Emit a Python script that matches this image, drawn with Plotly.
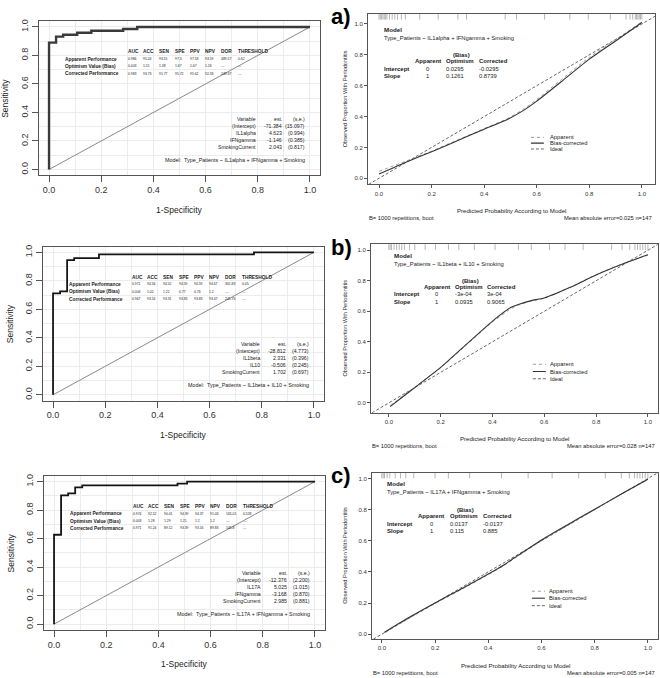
import plotly.graph_objects as go

W, H = 660, 678
FONT = "Liberation Sans, Arial, sans-serif"

# ---------------- data: ROC curves (step points: 1-specificity, sensitivity) ----------------
roc1_fpr = [0, 0, 0.027, 0.054, 0.108, 0.162, 0.284, 0.338, 1.0]
roc1_tpr = [0, 0.890, 0.932, 0.945, 0.959, 0.973, 0.986, 1.0, 1.0]
roc2_fpr = [0, 0, 0.027, 0.054, 0.081, 0.176, 0.770, 1.0]
roc2_tpr = [0, 0.712, 0.726, 0.945, 0.959, 0.986, 1.0, 1.0]
roc3_fpr = [0, 0, 0.027, 0.054, 0.081, 0.108, 0.473, 0.510, 1.0]
roc3_tpr = [0, 0.627, 0.904, 0.918, 0.959, 0.973, 0.986, 1.0, 1.0]

metric_cols = ["AUC", "ACC", "SEN", "SPE", "PPV", "NPV", "DOR", "THRESHOLD"]
metric_rows = ["Apparent Performance", "Optimism Value (Bias)", "Corrected Performance"]
roc1_metrics = [["0.986", "95.24", "93.15", "97.3", "97.18", "93.59", "489.57", "0.62"],
                ["0.003", "1.51", "1.38", "1.67", "1.67", "1.26", "---", "---"],
                ["0.983", "93.73", "91.77", "95.72", "95.62", "92.33", "249.37", "---"]]
roc2_metrics = [["0.971", "94.56", "94.52", "94.59", "94.59", "94.67", "301.83", "0.45"],
                ["0.004", "1.02", "1.22", "0.77", "0.76", "1.2", "---", "---"],
                ["0.967", "93.54", "93.31", "93.83", "93.83", "93.47", "241.76", "---"]]
roc3_metrics = [["0.974", "92.52", "90.41", "94.39", "94.37", "91.03", "165.01", "0.528"],
                ["0.003", "1.28", "1.29", "1.21", "1.2", "1.2", "---", "---"],
                ["0.971", "91.24", "89.12", "93.39", "93.16", "89.83", "145.8", "---"]]

coef_header = ["Variable", "est.", "(s.e.)"]
roc1_vars = ["(Intercept)", "IL1alpha", "IFNgamma", "SmokingCurrent"]
roc1_est = ["-71.384", "4.623", "-1.146", "2.043"]
roc1_se = ["(15.097)", "(0.994)", "(0.385)", "(0.817)"]
roc2_vars = ["(Intercept)", "IL1beta", "IL10", "SmokingCurrent"]
roc2_est = ["-28.812", "2.331", "-0.506", "1.702"]
roc2_se = ["(4.773)", "(0.396)", "(0.245)", "(0.697)"]
roc3_vars = ["(Intercept)", "IL17A", "IFNgamma", "SmokingCurrent"]
roc3_est = ["-12.376", "5.025", "-3.168", "2.985"]
roc3_se = ["(2.200)", "(1.015)", "(0.870)", "(0.881)"]
model1 = "Type_Patients ~ IL1alpha + IFNgamma + Smoking"
model2 = "Type_Patients ~ IL1beta + IL10 + Smoking"
model3 = "Type_Patients ~ IL17A + IFNgamma + Smoking"

# ---------------- data: calibration curves ----------------
cal_a_x = [0.0, 0.1, 0.2, 0.3, 0.4, 0.49, 0.55, 0.6, 0.7, 0.8, 0.9, 1.0]
cal_a_bias = [0.028, 0.103, 0.172, 0.245, 0.318, 0.383, 0.440, 0.500, 0.635, 0.772, 0.890, 1.010]
cal_a_app = [0.045, 0.110, 0.176, 0.249, 0.322, 0.388, 0.448, 0.510, 0.648, 0.784, 0.899, 1.014]
cal_b_x = [0.005, 0.05, 0.1, 0.2, 0.3, 0.4, 0.47, 0.5, 0.55, 0.6, 0.7, 0.8, 0.9, 1.0]
cal_b_bias = [-0.025, 0.035, 0.100, 0.232, 0.385, 0.536, 0.625, 0.645, 0.670, 0.687, 0.757, 0.838, 0.908, 0.970]
cal_b_app = [-0.018, 0.040, 0.103, 0.230, 0.380, 0.530, 0.615, 0.640, 0.668, 0.686, 0.757, 0.840, 0.910, 0.968]
cal_c_x = [0.01, 0.1, 0.2, 0.3, 0.4, 0.46, 0.5, 0.6, 0.7, 0.8, 0.9, 1.0]
cal_c_bias = [0.012, 0.105, 0.200, 0.292, 0.386, 0.446, 0.492, 0.605, 0.705, 0.803, 0.900, 0.995]
cal_c_app = [0.008, 0.100, 0.196, 0.288, 0.382, 0.442, 0.488, 0.600, 0.700, 0.800, 0.898, 0.993]

rug_a = [0.0, 0.005, 0.01, 0.015, 0.02, 0.025, 0.03, 0.04, 0.05, 0.06, 0.07, 0.085, 0.1, 0.155, 0.225,
         0.3, 0.333, 0.48, 0.523, 0.63, 0.726, 0.796, 0.88, 0.94, 0.955, 0.965, 0.975, 0.98, 0.985, 0.99, 0.995, 1.0]
rug_b = [0.0, 0.005, 0.01, 0.02, 0.03, 0.04, 0.05, 0.06, 0.08, 0.1, 0.14, 0.18, 0.23, 0.27, 0.33, 0.41,
         0.5, 0.55, 0.62, 0.68, 0.75, 0.86, 0.9, 0.93, 0.95, 0.96, 0.97, 0.98, 0.99, 1.0]
rug_c = [0.0, 0.005, 0.01, 0.02, 0.03, 0.05, 0.07, 0.09, 0.12, 0.2, 0.25, 0.33, 0.45, 0.55, 0.64, 0.74,
         0.84, 0.9, 0.93, 0.95, 0.96, 0.97, 0.98, 0.99, 1.0]

cal_rows = ["Intercept", "Slope"]
cal_cols = ["Apparent", "Optimism", "Corrected"]
cal_a_tab = [["0", "0.0295", "-0.0295"], ["1", "0.1261", "0.8739"]]
cal_b_tab = [["0", "-3e-04", "3e-04"], ["1", "0.0935", "0.9065"]]
cal_c_tab = [["0", "0.0137", "-0.0137"], ["1", "0.115", "0.885"]]
mae = ["0.025", "0.028", "0.005"]
letters = ["a)", "b)", "c)"]

ticks = [0, 0.2, 0.4, 0.6, 0.8, 1.0]
tick_text = ["0.0", "0.2", "0.4", "0.6", "0.8", "1.0"]

# ---------------- layout geometry (pixels) ----------------
def px(x):
    return x / W

def py(y):
    return 1 - y / H

# frame boxes: left, right, top, bottom (pixels); axis ranges
roc_frames = [(38.6, 320.4, 19.3, 173.7), (42.6, 324.4, 245.3, 399.7), (43.6, 325.4, 475.3, 629.7)]
roc_range = [-0.04, 1.04]
cal_frames = [(368, 655, 12, 183), (371, 658, 243, 412), (372, 658, 472, 639)]
cal_xr = [[-0.042, 1.05], [-0.069, 1.039], [-0.037, 1.038]]
cal_yr = [[-0.04, 1.065], [-0.065, 1.039], [-0.032, 1.038]]

fig = go.Figure()
annotations = []
shapes = []

def ann(text, x, y, xref, yref, size, xanchor="left", yanchor="middle", bold=False, color="#222", angle=0):
    if bold:
        text = "<b>" + text + "</b>"
    annotations.append(dict(text=text, x=x, y=y, xref=xref, yref=yref, showarrow=False,
                            xanchor=xanchor, yanchor=yanchor, textangle=angle,
                            font=dict(family=FONT, size=size, color=color), borderpad=0))

# ---------------- ROC panels ----------------
roc_data = [(roc1_fpr, roc1_tpr, roc1_metrics, roc1_vars, roc1_est, roc1_se, model1, "#3a3a3a", 2.4),
            (roc2_fpr, roc2_tpr, roc2_metrics, roc2_vars, roc2_est, roc2_se, model2, "#151515", 1.8),
            (roc3_fpr, roc3_tpr, roc3_metrics, roc3_vars, roc3_est, roc3_se, model3, "#151515", 1.8)]
col_x = [0.299, 0.357, 0.416, 0.477, 0.535, 0.594, 0.657, 0.72]
row_y = [0.775, 0.723, 0.671]
coef_y = [0.357, 0.308, 0.259, 0.21, 0.161]
coef_right = [0.797, 0.897, 0.985]

for i, (fpr, tpr, met, vars_, est, se, model, lc, lw) in enumerate(roc_data):
    n = i + 1
    xa = "x" if n == 1 else f"x{n}"
    ya = "y" if n == 1 else f"y{n}"
    L, R, T, B = roc_frames[i]
    # diagonal reference
    fig.add_trace(go.Scatter(x=[ticks[0], ticks[-1]], y=[ticks[0], ticks[-1]], mode="lines",
                             line=dict(color="#8a8a8a", width=1), xaxis=xa, yaxis=ya, showlegend=False,
                             hoverinfo="skip"))
    fig.add_trace(go.Scatter(x=fpr, y=tpr, mode="lines", line=dict(color=lc, width=lw, shape="hv"),
                             xaxis=xa, yaxis=ya, showlegend=False))
    axcommon = dict(range=roc_range, showline=True, mirror=True, linecolor="#555", linewidth=1,
                    ticks="outside", ticklen=6, tickcolor="#555", tickvals=ticks, ticktext=tick_text,
                    showgrid=True, gridcolor="#ececec", gridwidth=1, zeroline=False,
                    minor=dict(dtick=0.1, tick0=0, showgrid=True, gridcolor="#ececec", ticks=""),
                    tickfont=dict(family=FONT, size=9, color="#333"), fixedrange=True)
    fig.layout[("xaxis" if n == 1 else f"xaxis{n}")] = dict(domain=[px(L), px(R)], anchor=ya, **axcommon)
    fig.layout[("yaxis" if n == 1 else f"yaxis{n}")] = dict(domain=[py(B), py(T)], anchor=xa, tickangle=-90,
                                                             **axcommon)
    # metrics table
    for j, c in enumerate(metric_cols):
        ann(c, col_x[j], 0.825, xa, ya, 4.8, bold=True)
    for r, lab in enumerate(metric_rows):
        ann(lab, 0.057, row_y[r], xa, ya, 4.8, bold=True)
        for j, v in enumerate(met[r]):
            ann(v, col_x[j], row_y[r], xa, ya, 3.4)
    # coefficient table
    for j, h in enumerate(coef_header):
        ann(h, coef_right[j], coef_y[0], xa, ya, 5.2, xanchor="right")
    for r in range(4):
        ann(vars_[r], coef_right[0], coef_y[r + 1], xa, ya, 5.2, xanchor="right")
        ann(est[r], coef_right[1], coef_y[r + 1], xa, ya, 5.2, xanchor="right")
        ann(se[r], coef_right[2], coef_y[r + 1], xa, ya, 5.2, xanchor="right")
    ann("Model:  " + model, 0.985, 0.07, xa, ya, 5.4, xanchor="right")
    # axis titles
    ann("1-Specificity", px((L + R) / 2), py(B + 34.5), "paper", "paper", 8.5, xanchor="center")
    ann("Sensitivity", px(L - 33), py((T + B) / 2), "paper", "paper", 8.5, xanchor="center", angle=-90)

# ---------------- calibration panels ----------------
cal_data = [(cal_a_x, cal_a_bias, cal_a_app, rug_a, cal_a_tab, model1),
            (cal_b_x, cal_b_bias, cal_b_app, rug_b, cal_b_tab, model2),
            (cal_c_x, cal_c_bias, cal_c_app, rug_c, cal_c_tab, model3)]
leg_y = [[0.265, 0.228, 0.19], [0.253, 0.205, 0.158], [0.276, 0.231, 0.183]]
leg_x = [[0.578, 0.627, 0.646], [0.556, 0.606, 0.618], [0.564, 0.613, 0.624]]
leg_lab = ["Apparent", "Bias-corrected", "Ideal"]
leg_sty = [dict(color="#9a9a9a", width=1, dash="dot"), dict(color="#333", width=1.1),
           dict(color="#555", width=0.9, dash="3px,2px")]

for i, (cx, cb, ca, rug, tab, model) in enumerate(cal_data):
    n = i + 4
    xa, ya = f"x{n}", f"y{n}"
    L, R, T, B = cal_frames[i]
    xr, yr = cal_xr[i], cal_yr[i]
    lo = max(xr[0], yr[0])
    hi = min(xr[1], yr[1])
    fig.add_trace(go.Scatter(x=[lo, hi], y=[lo, hi], mode="lines", line=leg_sty[2],
                             xaxis=xa, yaxis=ya, showlegend=False, hoverinfo="skip"))
    fig.add_trace(go.Scatter(x=cx, y=ca, mode="lines", line=dict(leg_sty[0], shape="spline", smoothing=0.5),
                             xaxis=xa, yaxis=ya, showlegend=False))
    fig.add_trace(go.Scatter(x=cx, y=cb, mode="lines", line=dict(leg_sty[1], shape="spline", smoothing=0.5),
                             xaxis=xa, yaxis=ya, showlegend=False))
    fig.add_trace(go.Scatter(x=rug, y=[yr[1] - 0.014] * len(rug), mode="markers",
                             marker=dict(symbol="line-ns", size=5, line=dict(color="#b5b5b5", width=1)),
                             xaxis=xa, yaxis=ya, showlegend=False, hoverinfo="skip"))
    axc = dict(showline=True, mirror=True, linecolor="#555", linewidth=1, ticks="outside", ticklen=3,
               tickcolor="#555", tickvals=ticks, ticktext=tick_text, showgrid=False, zeroline=False,
               tickfont=dict(family=FONT, size=6, color="#333"), fixedrange=True)
    fig.layout[f"xaxis{n}"] = dict(domain=[px(L), px(R)], anchor=ya, range=xr, **axc)
    fig.layout[f"yaxis{n}"] = dict(domain=[py(B), py(T)], anchor=xa, range=yr, **axc)
    # text block
    ann("Model", 0.015, 0.965, xa, ya, 6.2, bold=True)
    ann(model, 0.015, 0.912, xa, ya, 5.8)
    ann("(Bias)", 0.314, 0.80, xa, ya, 6, xanchor="center", bold=True)
    ann(cal_cols[0], 0.185, 0.757, xa, ya, 6, xanchor="center", bold=True)
    ann(cal_cols[1], 0.252, 0.757, xa, ya, 6, bold=True)
    ann(cal_cols[2], 0.375, 0.757, xa, ya, 6, bold=True)
    for r in range(2):
        yy = [0.71, 0.66][r]
        ann(cal_rows[r], 0.015, yy, xa, ya, 6, bold=True)
        ann(tab[r][0], 0.185, yy, xa, ya, 5.8, xanchor="center")
        ann(tab[r][1], 0.252, yy, xa, ya, 5.8)
        ann(tab[r][2], 0.375, yy, xa, ya, 5.8)
    # legend
    for k in range(3):
        shapes.append(dict(type="line", xref=xa, yref=ya, x0=leg_x[i][0], x1=leg_x[i][1],
                           y0=leg_y[i][k], y1=leg_y[i][k], line=leg_sty[k]))
        ann(leg_lab[k], leg_x[i][2], leg_y[i][k], xa, ya, 5.8)
    # titles and footers
    ann("Predicted Probability According to Model", px((L + R) / 2), py(B + 26), "paper", "paper",
        6.1, xanchor="center")
    ann("B= 1000 repetitions, boot", px(L), py(B + 33.5), "paper", "paper", 5.8)
    ann(f"Mean absolute error={mae[i]} n=147", px(R - 2), py(B + 33.5), "paper", "paper", 5.8,
        xanchor="right")
    ann("Observed Proportion With Periodontitis", px(345), py((T + B) / 2), "paper", "paper", 5.6,
        xanchor="center", angle=-90)
    ann(letters[i], px(341), py(T + 3), "paper", "paper", 22, xanchor="center", bold=True, color="#000")

fig.update_layout(width=W, height=H, margin=dict(l=0, r=0, t=0, b=0), paper_bgcolor="white",
                  plot_bgcolor="white", showlegend=False, annotations=annotations, shapes=shapes)
fig.write_html("out.html", config={"displayModeBar": False},
               post_script="document.body.style.margin='0px';document.body.style.overflow='hidden';")
